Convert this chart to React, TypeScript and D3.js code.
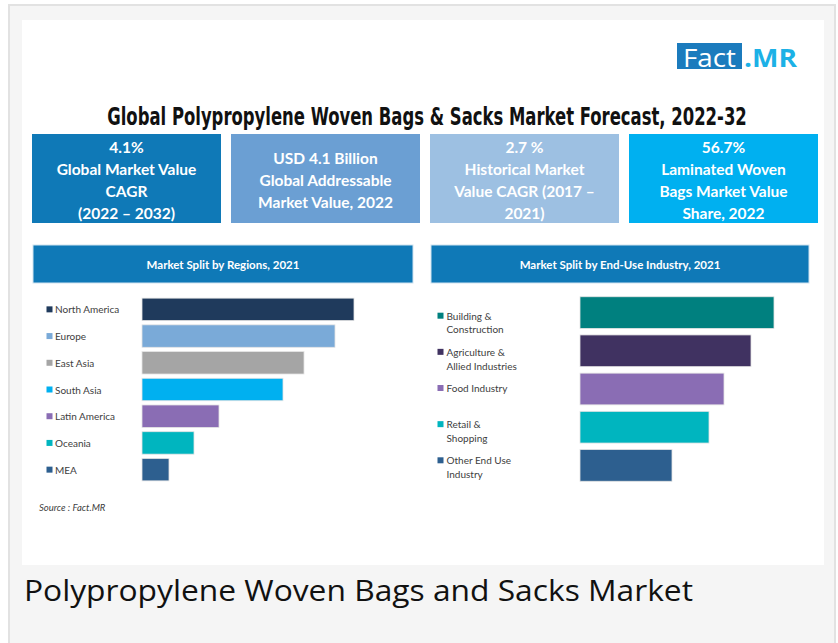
import React, { useLayoutEffect, useRef, useState } from "react";
import * as d3 from "d3";

const regionCategories = ["North America", "Europe", "East Asia", "South Asia", "Latin America", "Oceania", "MEA"];
const regionValues = [212, 193, 162, 141, 77, 52, 27];
const regionColors = ["#1f3a5c", "#7aaad8", "#a5a5a5", "#00b0f0", "#8a6db4", "#00b5bf", "#2d5f8f"];

const industryCategories = ["Building & Construction", "Agriculture & Allied Industries", "Food Industry", "Retail & Shopping", "Other End Use Industry"];
const industryLabelLines = [["Building &", "Construction"], ["Agriculture &", "Allied Industries"], ["Food Industry"], ["Retail &", "Shopping"], ["Other End Use", "Industry"]];
const industryValues = [194, 171, 144, 129, 92];
const industryColors = ["#00807f", "#403261", "#8a6db4", "#00b5bf", "#2d5f8f"];

const kpiLines = [
  ["4.1%", "Global Market Value", "CAGR", "(2022 – 2032)"],
  ["USD 4.1 Billion", "Global Addressable", "Market Value, 2022"],
  ["2.7 %", "Historical Market", "Value CAGR (2017 –", "2021)"],
  ["56.7%", "Laminated Woven", "Bags Market Value", "Share, 2022"],
];
const kpiColors = ["#0f79b7", "#6b9fd3", "#9dc0e2", "#00b0f0"];
const kpiX = [32, 231, 430, 629];

const titleText = "Global Polypropylene Woven Bags & Sacks Market Forecast, 2022-32";
const captionText = "Polypropylene Woven Bags and Sacks Market";
const regionHeader = "Market Split by Regions, 2021";
const industryHeader = "Market Split by End-Use Industry, 2021";
const sourceText = "Source : Fact.MR";

export default function App() {
  const titleRef = useRef<SVGTextElement>(null);
  const [titleScale, setTitleScale] = useState(1);
  useLayoutEffect(() => {
    if (titleRef.current) {
      const w = titleRef.current.getComputedTextLength();
      if (w > 0) setTitleScale(Math.min(1, 640 / w));
    }
  }, []);

  const yR = d3.scaleBand<string>().domain(regionCategories).range([296, 483]).paddingInner(0.16).paddingOuter(0.08);
  const xR = d3.scaleLinear().domain([0, d3.max(regionValues)!]).range([142, 354]);
  const yI = d3.scaleBand<string>().domain(industryCategories).range([293.5, 484.5]).paddingInner(0.17).paddingOuter(0.085);
  const xI = d3.scaleLinear().domain([0, d3.max(industryValues)!]).range([580, 774]);
  const legI = d3.scalePoint<string>().domain(industryCategories).range([315.7, 460.3]);

  const sans = "Lato, 'Open Sans', sans-serif";
  return (
    <svg width={838} height={643} style={{ position: "absolute", left: 0, top: 0 }} xmlns="http://www.w3.org/2000/svg">
      <rect x={0} y={0} width={838} height={643} fill="#ffffff" />
      <rect x={9} y={5} width={826} height={642} fill="#f5f5f5" stroke="#e2e2e2" strokeWidth={2} />
      <rect x={22} y={20} width={802} height={545} fill="#ffffff" />

      {/* Logo */}
      <rect x={677} y={43} width={65} height={26} fill="#1b7bbd" />
      <text x={709.5} y={66.5} textAnchor="middle" fill="#ffffff" fontFamily="'Open Sans', sans-serif" fontSize={25} textLength={53} lengthAdjust="spacingAndGlyphs">Fact</text>
      <text x={744} y={66.5} fill="#1cb1e6" fontFamily="'Open Sans', sans-serif" fontWeight={700} fontSize={25} textLength={53} lengthAdjust="spacingAndGlyphs">.MR</text>

      {/* Title */}
      <g transform={`translate(427,125) scale(${titleScale},1)`}>
        <text ref={titleRef} x={0} y={0} textAnchor="middle" fill="#111" fontFamily="'Liberation Sans Narrow', 'DejaVu Sans Condensed', sans-serif" fontWeight={700} fontSize={25}>{titleText}</text>
      </g>

      {/* KPI boxes */}
      {kpiLines.map((lines, i) => {
        const cx = kpiX[i] + 94.5;
        const n = lines.length;
        const lh = 22;
        const cy = 179.5;
        return (
          <g key={i}>
            <rect x={kpiX[i]} y={134} width={189} height={89} fill={kpiColors[i]} />
            {lines.map((l, j) => (
              <text key={j} x={cx} y={cy + (j - (n - 1) / 2) * lh} textAnchor="middle" dominantBaseline="central" fill="#ffffff" fontFamily={sans} fontWeight={700} fontSize={15.5}>{l}</text>
            ))}
          </g>
        );
      })}

      {/* Section headers */}
      <rect x={33} y={245} width={380} height={38} fill="#0f79b7" stroke="#d0e3f0" strokeWidth={1} />
      <text x={223} y={264} textAnchor="middle" dominantBaseline="central" fill="#ffffff" fontFamily={sans} fontWeight={700} fontSize={11.5}>{regionHeader}</text>
      <rect x={431} y={245} width={378} height={38} fill="#0f79b7" stroke="#d0e3f0" strokeWidth={1} />
      <text x={620} y={264} textAnchor="middle" dominantBaseline="central" fill="#ffffff" fontFamily={sans} fontWeight={700} fontSize={11.5}>{industryHeader}</text>

      {/* Region bars */}
      {regionCategories.map((c, i) => {
        const y = yR(c)!;
        const h = yR.bandwidth();
        return (
          <g key={c}>
            <rect x={xR(0)} y={y} width={xR(regionValues[i]) - xR(0)} height={h} fill={regionColors[i]} stroke="#e4e4e4" strokeWidth={0.8} />
            <rect x={46.5} y={y + h / 2 - 3} width={6} height={6} fill={regionColors[i]} />
            <text x={55} y={y + h / 2} dominantBaseline="central" fill="#404040" fontFamily={sans} fontSize={10}>{c}</text>
          </g>
        );
      })}
      <text x={39} y={507} dominantBaseline="central" fill="#404040" fontFamily={sans} fontStyle="italic" fontSize={9.5}>{sourceText}</text>

      {/* Industry bars */}
      {industryCategories.map((c, i) => {
        const y = yI(c)!;
        const h = yI.bandwidth();
        const ly = legI(c)!;
        return (
          <g key={c}>
            <rect x={xI(0)} y={y} width={xI(industryValues[i]) - xI(0)} height={h} fill={industryColors[i]} stroke="#e4e4e4" strokeWidth={0.8} />
            <rect x={437.5} y={ly - 3} width={6} height={6} fill={industryColors[i]} />
            {industryLabelLines[i].map((l, j) => (
              <text key={j} x={446.5} y={ly + j * 13.7} dominantBaseline="central" fill="#404040" fontFamily={sans} fontSize={10}>{l}</text>
            ))}
          </g>
        );
      })}

      {/* Caption */}
      <text x={24} y={601} fill="#111111" fontFamily="'Open Sans', sans-serif" fontSize={30} textLength={669} lengthAdjust="spacingAndGlyphs">{captionText}</text>
    </svg>
  );
}
